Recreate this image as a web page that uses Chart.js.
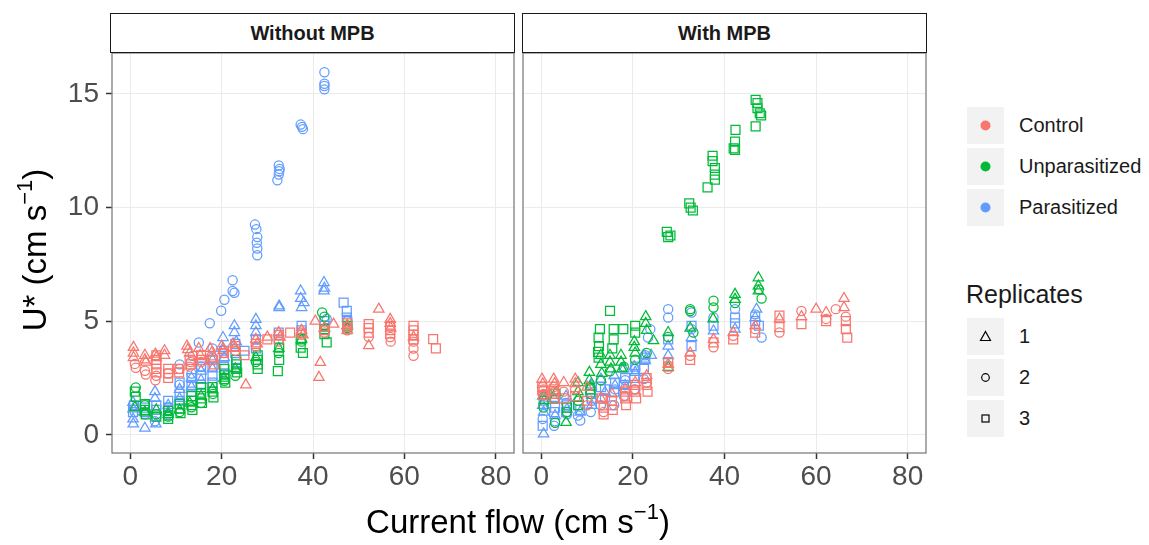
<!DOCTYPE html>
<html>
<head>
<meta charset="utf-8">
<script src="https://cdn.jsdelivr.net/npm/chart.js@4.4.1/dist/chart.umd.min.js"></script>
<style>
body { margin:0; width:1149px; height:545px; background:#fff; position:relative; overflow:hidden; font-family:"Liberation Sans", Arial, sans-serif; }
.box { position:absolute; }
.strip { position:absolute; top:13px; height:40px; box-sizing:border-box; border:1.3px solid #1a1a1a; background:#fff;
  font-weight:bold; font-size:20px; color:#1a1a1a; text-align:center; line-height:38px; }
.axtitle { position:absolute; font-size:33px; color:#000; white-space:nowrap; text-align:center; }
.axtitle sup { font-size:22px; vertical-align:14px; line-height:0; }
.key { position:absolute; left:967px; width:37px; height:37px; background:#f2f2f2; }
.lab { position:absolute; left:1019px; font-size:20px; color:#1a1a1a; line-height:37px; }
</style>
</head>
<body>

<div class="strip" style="left:110px;width:405px;">Without MPB</div>
<div class="strip" style="left:522px;width:405px;">With MPB</div>

<div class="box" style="left:0;top:53px;width:515px;height:447px;"><canvas id="left"></canvas></div>
<div class="box" style="left:515px;top:53px;width:412px;height:447px;"><canvas id="right"></canvas></div>

<div class="axtitle" style="left:-115px;top:230px;width:300px;height:40px;line-height:40px;transform:rotate(-90deg);">U* (cm s<sup>−1</sup>)</div>
<div class="axtitle" style="left:318px;top:502px;width:400px;height:40px;line-height:40px;">Current flow (cm s<sup>−1</sup>)</div>

<div id="legend"></div>

<script>
const xTicks = [0, 20, 40, 60, 80];
const yTicks = [0, 5, 10, 15];
const treatments = ['Control', 'Unparasitized', 'Parasitized'];
const replicates = ['1', '2', '3'];
const colors = ['#F8766D', '#00BA38', '#619CFF'];
const shapes = ['triangle', 'circle', 'rect'];

// Without MPB  [flow, U*]
const woControl1 = [[0.7,3.85],[0.7,3.6],[0.7,3.4],[3.2,3.5],[3.2,3.3],[3.4,3.2],[5.5,3.55],[5.7,3.4],[7.5,3.7],[7.5,3.5],[12.4,3.9],[12.6,3.75],[13,3.6],[15,3.8],[15.3,3.5],[17.5,3.8],[17.8,3.6],[20,3.9],[20.3,3.7],[22.5,4.0],[22.8,3.8],[25.3,2.2],[27.5,4.2],[27.8,4.0],[30,4.3],[32.5,4.5],[32.8,4.3],[37.5,4.6],[37.8,4.4],[40.5,5.0],[41.3,2.53],[41.6,3.19],[42.5,4.7],[44.5,4.87],[47.5,4.8],[47.5,4.6],[52.2,3.92],[54.4,5.53],[56.9,5.08],[56.9,4.9],[57,4.7],[62,4.3]];
const woControl2 = [[1.0,3.12],[1.2,2.95],[3.2,2.82],[3.4,2.65],[5.5,2.4],[5.7,2.6],[8.3,2.7],[10.8,2.9],[13,3.0],[13.2,3.2],[15.5,3.2],[18,3.4],[20.5,3.6],[23,3.7],[27.5,3.9],[32.5,4.1],[37.5,4.4],[42.5,4.5],[47.5,4.6],[47.5,4.75],[52.2,4.3],[56.9,4.3],[57,4.1],[62,3.48],[62,3.8],[62,4.1]];
const woControl3 = [[5.7,3.5],[5.7,3.3],[5.7,3.1],[5.7,2.9],[5.7,2.75],[8.3,2.9],[8.3,2.7],[8.3,2.5],[10.5,2.9],[10.7,2.75],[13,3.3],[13.3,3.1],[15.5,3.5],[15.7,3.3],[18,3.3],[18.3,3.1],[20.5,3.6],[23,3.9],[25,3.5],[27.5,4.0],[30,4.2],[32.5,4.4],[35,4.5],[37.5,4.5],[42.5,4.6],[47.5,4.9],[52.2,4.87],[52.2,4.7],[52.2,4.5],[56.9,4.8],[56.9,4.6],[56.9,4.45],[62,4.8],[62,4.6],[62,4.4],[62,4.2],[66.3,4.21],[66.9,3.8]];
const woUnpar1 = [[1,1.2],[3.2,1.0],[5.7,1.1],[8.3,0.9],[10.8,1.1],[13,1.4],[15.5,1.7],[18,2.0],[20.5,2.5],[23,2.9],[27.5,3.4],[32.5,3.8],[37.5,4.2],[42.5,4.7],[47.5,4.8]];
const woUnpar2 = [[1.2,2.08],[3.2,1.3],[5.7,0.9],[8.3,0.8],[10.8,1.0],[13.4,1.21],[15.5,1.4],[18.1,1.8],[20.6,2.38],[23,2.6],[27.5,3.2],[32.5,3.6],[37.5,4.1],[42,5.38],[42.5,5.2],[47.5,4.7]];
const woUnpar3 = [[1.0,1.9],[1.2,1.67],[3.2,1.35],[3.2,1.1],[3.4,0.9],[5.7,0.8],[8.3,1.05],[8.3,0.85],[8.3,0.7],[10.8,1.35],[10.8,1.15],[11.0,0.95],[13.4,1.7],[13.4,1.5],[13.4,1.3],[13.6,1.1],[15.5,2.1],[15.5,1.85],[15.5,1.6],[15.7,1.4],[18,2.1],[18,1.9],[18.2,1.65],[20.6,2.9],[20.6,2.65],[20.6,2.45],[20.8,2.3],[23.2,3.3],[23.2,3.1],[23.2,2.9],[23.4,2.75],[27.9,3.5],[27.9,3.3],[27.9,3.1],[27.9,2.9],[32.6,3.3],[32.6,3.84],[32.3,2.8],[37.3,4.2],[37.3,3.84],[37.8,3.6],[42.5,4.43],[43,4.07],[42.5,4.65],[47.5,4.65],[47.5,4.8]];
const woPara1 = [[0.6,1.43],[0.6,1.14],[0.6,0.7],[0.65,0.48],[3.2,0.29],[5.4,1.9],[5.4,1.6],[5.6,0.48],[8.3,1.3],[8.3,1.0],[10.8,2.0],[10.8,1.6],[13.4,2.5],[13.4,2.1],[15.5,2.8],[15.5,2.4],[18,3.3],[18,2.9],[20.3,4.28],[20.3,3.8],[20.6,3.4],[22.8,4.8],[22.8,4.5],[23.2,4.1],[27.5,5.08],[27.5,4.8],[27.5,4.5],[32.6,5.67],[32.6,5.6],[37.3,6.33],[37.3,6.0],[38,5.82],[37.5,5.6],[42.4,6.7],[42.4,6.33],[42.5,6.45]];
const woPara2 = [[0.6,1.3],[1.0,1.0],[3.2,1.36],[3.2,0.9],[5.4,0.6],[5.7,0.8],[8.3,1.2],[8.3,0.9],[10.8,2.2],[10.8,3.1],[13.4,2.7],[13.7,3.48],[15,4.06],[15.5,3.0],[17.4,4.91],[18,3.8],[19.9,5.46],[20.6,5.94],[22.4,6.8],[22.4,6.33],[22.8,6.25],[27.3,9.25],[27.6,9.05],[27.8,8.7],[27.7,8.45],[27.8,8.2],[27.8,7.9],[32.2,11.2],[32.5,11.45],[32.7,11.7],[32.5,11.85],[32.6,11.6],[37.3,13.65],[37.6,13.55],[37.8,13.45],[42.5,15.95],[42.5,15.45],[42.5,15.35],[42.5,15.2],[47.5,5.0],[43,5.1]];
const woPara3 = [[0.6,1.0],[0.8,1.3],[3.2,1.2],[3.2,1.0],[5.7,1.1],[5.7,1.3],[8.3,1.5],[8.3,1.2],[10.8,1.8],[10.8,2.3],[10.8,1.5],[13.4,2.2],[13.4,2.5],[13.4,1.9],[15.5,2.6],[15.5,3.0],[15.5,2.2],[18,3.0],[18,3.3],[18,2.6],[18,2.3],[20.5,3.4],[20.5,3.7],[20.5,3.0],[20.6,2.7],[23,3.6],[23,4.0],[23.2,3.2],[23.2,2.95],[25,3.7],[27.5,3.8],[27.5,4.2],[32.5,4.2],[32.5,4.5],[37.5,4.6],[37.5,4.8],[42.5,4.8],[42.5,5.0],[46.7,5.82],[47.4,5.45],[47.4,5.16],[47.5,5.0]];

// With MPB  [flow, U*]
const wiControl1 = [[0.15,2.45],[0.3,2.24],[2.7,2.45],[2.9,2.25],[4.9,2.3],[7.4,2.45],[7.4,2.25],[10,2.1],[13,1.6],[15.4,1.8],[18.3,2.0],[20.5,2.3],[23,2.6],[27.7,3.1],[32.5,3.6],[37.6,4.2],[41.9,4.5],[46.7,4.8],[52,5.1],[56.8,5.2],[60,5.53],[62.2,5.38],[66.1,6.0],[66.1,5.6]];
const wiControl2 = [[0.5,2.0],[0.5,1.8],[2.7,2.1],[2.8,1.9],[4.9,1.9],[7.4,2.0],[10,1.3],[13.6,1.0],[15.4,1.3],[18.3,1.72],[20.5,2.0],[23,2.3],[27.7,2.9],[32.5,3.48],[37.6,3.85],[41.9,4.36],[46.7,4.65],[52,4.5],[56.8,5.45],[62.2,5.1],[64.3,5.53],[66.5,5.2]];
const wiControl3 = [[0.2,2.1],[0.2,1.95],[0.4,1.75],[2.7,2.0],[2.7,1.8],[2.9,1.6],[4.9,1.6],[7.4,1.7],[10,1.5],[13.2,1.6],[13.6,1.2],[13.6,0.9],[15.4,1.5],[15.6,1.1],[18.3,1.9],[18.3,1.6],[18.5,1.3],[20.5,2.2],[20.5,1.9],[20.7,1.6],[23,2.5],[23,2.2],[23.2,1.9],[27.7,3.0],[27.7,3.2],[32.5,3.3],[37.6,4.07],[41.9,4.2],[46.7,4.5],[52,5.25],[52,4.74],[56.8,4.87],[62.2,5.0],[66.5,5.0],[66.5,4.65],[66.8,4.28]];
const wiUnpar1 = [[0.6,1.7],[0.6,1.5],[3.2,1.87],[5.4,0.55],[8,2.3],[8,1.9],[8.1,1.6],[10.5,2.75],[10.5,2.4],[10.7,2.1],[13,3.5],[13,3.1],[13.2,2.7],[15,3.5],[15,3.2],[15.2,2.9],[17.4,3.5],[17.4,3.2],[17.6,2.9],[20.3,4.1],[20.3,3.85],[20.5,3.6],[22.8,5.2],[22.8,4.9],[23,4.6],[24.5,4.14],[27.7,4.5],[27.7,2.97],[32.5,4.7],[37.5,5.1],[42.3,6.18],[42.3,5.96],[47.4,6.91],[47.4,6.55],[47.4,6.33]];
const wiUnpar2 = [[0.5,1.2],[3.0,0.53],[5.6,1.0],[8.1,1.5],[10.7,1.8],[13,2.4],[15,2.8],[18,3.0],[20.5,3.3],[23,3.6],[27.7,4.3],[32.5,5.53],[32.5,5.45],[33.2,4.5],[37.6,5.9],[37.6,5.6],[42.3,5.8],[48.1,6.0],[47.5,6.4]];
const wiUnpar3 = [[3.1,1.8],[3.0,1.6],[5.6,1.2],[8.1,1.3],[10.7,2.0],[12.4,3.65],[12.5,3.4],[12.8,4.65],[12.5,4.28],[12.6,3.9],[15.0,5.45],[15.8,4.65],[15.8,4.2],[15.5,3.8],[17.9,4.65],[20.5,4.8],[20.5,4.5],[27.4,8.93],[27.7,8.7],[28.2,8.77],[32.3,10.18],[32.6,10.0],[33.1,9.87],[36.3,10.89],[37.4,12.28],[37.4,12.04],[37.9,11.74],[37.9,11.45],[37.9,11.23],[42.4,13.42],[42.3,12.9],[42.3,12.54],[42.0,12.6],[46.8,13.57],[46.8,14.74],[47.2,14.6],[47.2,14.37],[47.7,14.15],[48,14.05]];
const wiPara1 = [[0.3,1.7],[0.3,1.3],[0.5,1.0],[0.5,0.04],[2.8,1.6],[3.0,0.85],[5.4,1.7],[5.6,1.13],[8.0,1.6],[8.5,1.0],[10.8,2.2],[11,1.3],[13,2.45],[13.9,1.87],[15.9,2.6],[16.1,2.17],[18,2.9],[18.3,2.17],[20.3,3.0],[20.5,2.75],[22.4,3.5],[22.7,3.26],[24,3.5],[27.7,3.9],[27.7,3.48],[32.8,4.28],[37.6,4.57],[42.3,4.65],[46.7,5.16],[47,5.53]];
const wiPara2 = [[0.3,0.7],[0.5,1.3],[2.8,0.4],[3.0,0.6],[5.4,1.4],[5.6,0.9],[8,0.85],[8.5,0.63],[10.8,1.0],[11,1.5],[13,1.3],[13.9,1.6],[15.9,1.3],[16.1,2.0],[18,1.7],[18.3,2.4],[20.3,2.0],[20.5,2.9],[22.4,2.45],[22.7,3.5],[23.8,4.65],[23.3,4.28],[27.7,5.53],[27.7,5.16],[32.8,5.38],[32.8,4.65],[37.6,5.16],[42.3,5.53],[48.1,4.28],[46.7,5.3]];
const wiPara3 = [[0.3,0.4],[0.5,1.5],[2.8,1.0],[3.0,1.2],[5.4,1.0],[5.6,1.3],[8,1.3],[8.5,1.1],[10.8,1.8],[11,1.6],[13,2.1],[13.9,2.0],[15.9,1.9],[16.1,2.3],[18,2.2],[18.3,2.5],[20.3,2.5],[20.5,3.0],[22.4,2.9],[22.7,3.4],[27.7,4.2],[32.8,4.8],[32.8,3.9],[37.6,4.8],[42.3,5.16],[42.3,4.9],[46.7,5.0],[47.5,4.8]];

const withoutMPB = [[woControl1, woControl2, woControl3], [woUnpar1, woUnpar2, woUnpar3], [woPara1, woPara2, woPara3]];
const withMPB = [[wiControl1, wiControl2, wiControl3], [wiUnpar1, wiUnpar2, wiUnpar3], [wiPara1, wiPara2, wiPara3]];

const radius = { triangle: 6, circle: 4.6, rect: 6.3 };

function makeDatasets(groups) {
    const out = [];
    groups.forEach((reps, t) => {
        reps.forEach((pts, r) => {
            out.push({
                label: treatments[t] + ' ' + replicates[r],
                data: pts.map(p => ({ x: p[0], y: p[1] })),
                pointStyle: shapes[r],
                pointRadius: radius[shapes[r]],
                borderColor: colors[t],
                backgroundColor: 'rgba(0,0,0,0)',
                borderWidth: 1.25
            });
        });
    });
    return out;
}

const panelBorder = {
    id: 'panelBorder',
    afterDraw(chart) {
        const { ctx, chartArea: a } = chart;
        ctx.save();
        ctx.strokeStyle = '#7f7f7f';
        ctx.lineWidth = 1.3;
        ctx.strokeRect(a.left, a.top, a.right - a.left, a.bottom - a.top);
        ctx.restore();
    }
};

// keep the plot area fixed: no label overflow padding
function noPad(s) {
    s.paddingTop = 0; s.paddingBottom = 0; s.paddingLeft = 0; s.paddingRight = 0;
}

function makeChart(id, groups, showY) {
    new Chart(document.getElementById(id), {
        type: 'scatter',
        data: { datasets: makeDatasets(groups) },
        options: {
            responsive: true,
            maintainAspectRatio: false,
            animation: false,
            layout: { autoPadding: false, padding: { left: 0, right: 1, top: 0, bottom: 0 } },
            plugins: { legend: { display: false }, tooltip: { enabled: false } },
            scales: {
                x: {
                    type: 'linear', min: -4, max: 84,
                    afterBuildTicks: s => { s.ticks = xTicks.map(v => ({ value: v })); },
                    afterFit: s => { s.height = 47; noPad(s); },
                    border: { display: false },
                    grid: { color: '#ebebeb', lineWidth: 1, tickColor: '#333333', tickWidth: 1.5, tickLength: 6 },
                    ticks: { color: '#4d4d4d', font: { family: 'Liberation Sans', size: 28 }, padding: 1, maxRotation: 0 }
                },
                y: {
                    type: 'linear', min: -0.8, max: 16.8,
                    afterBuildTicks: s => { s.ticks = yTicks.map(v => ({ value: v })); },
                    afterFit: s => { s.width = showY ? 112 : 8; noPad(s); },
                    border: { display: false },
                    grid: { color: '#ebebeb', lineWidth: 1, tickColor: showY ? '#333333' : 'rgba(0,0,0,0)', tickWidth: 1.5, tickLength: 6, drawTicks: showY },
                    ticks: { display: showY, color: '#4d4d4d', font: { family: 'Liberation Sans', size: 28 }, padding: 7 }
                }
            }
        },
        plugins: [panelBorder]
    });
}

makeChart('left', withoutMPB, true);
makeChart('right', withMPB, false);

// legend
const keySvg = {
    triangle: '<polygon points="18.5,13.5 23.5,22.5 13.5,22.5" fill="none" stroke="#000" stroke-width="1.2"/>',
    circle: '<circle cx="18.5" cy="18.5" r="3.8" fill="none" stroke="#000" stroke-width="1.2"/>',
    rect: '<rect x="15" y="15" width="7" height="7" fill="none" stroke="#000" stroke-width="1.2"/>'
};
const legendTops = [107, 148, 189];
const repTops = [318, 359, 400];
let html = '';
treatments.forEach((t, i) => {
    html += '<div class="key" style="top:' + legendTops[i] + 'px"><svg width="37" height="37"><circle cx="18.5" cy="18.5" r="5" fill="' + colors[i] + '"/></svg></div>';
    html += '<div class="lab" style="top:' + legendTops[i] + 'px">' + t + '</div>';
});
html += '<div class="lab" style="left:966px;top:276px;font-size:25px;">Replicates</div>';
replicates.forEach((r, i) => {
    html += '<div class="key" style="top:' + repTops[i] + 'px"><svg width="37" height="37">' + keySvg[shapes[i]] + '</svg></div>';
    html += '<div class="lab" style="top:' + repTops[i] + 'px">' + r + '</div>';
});
document.getElementById('legend').innerHTML = html;
</script>
</body>
</html>
